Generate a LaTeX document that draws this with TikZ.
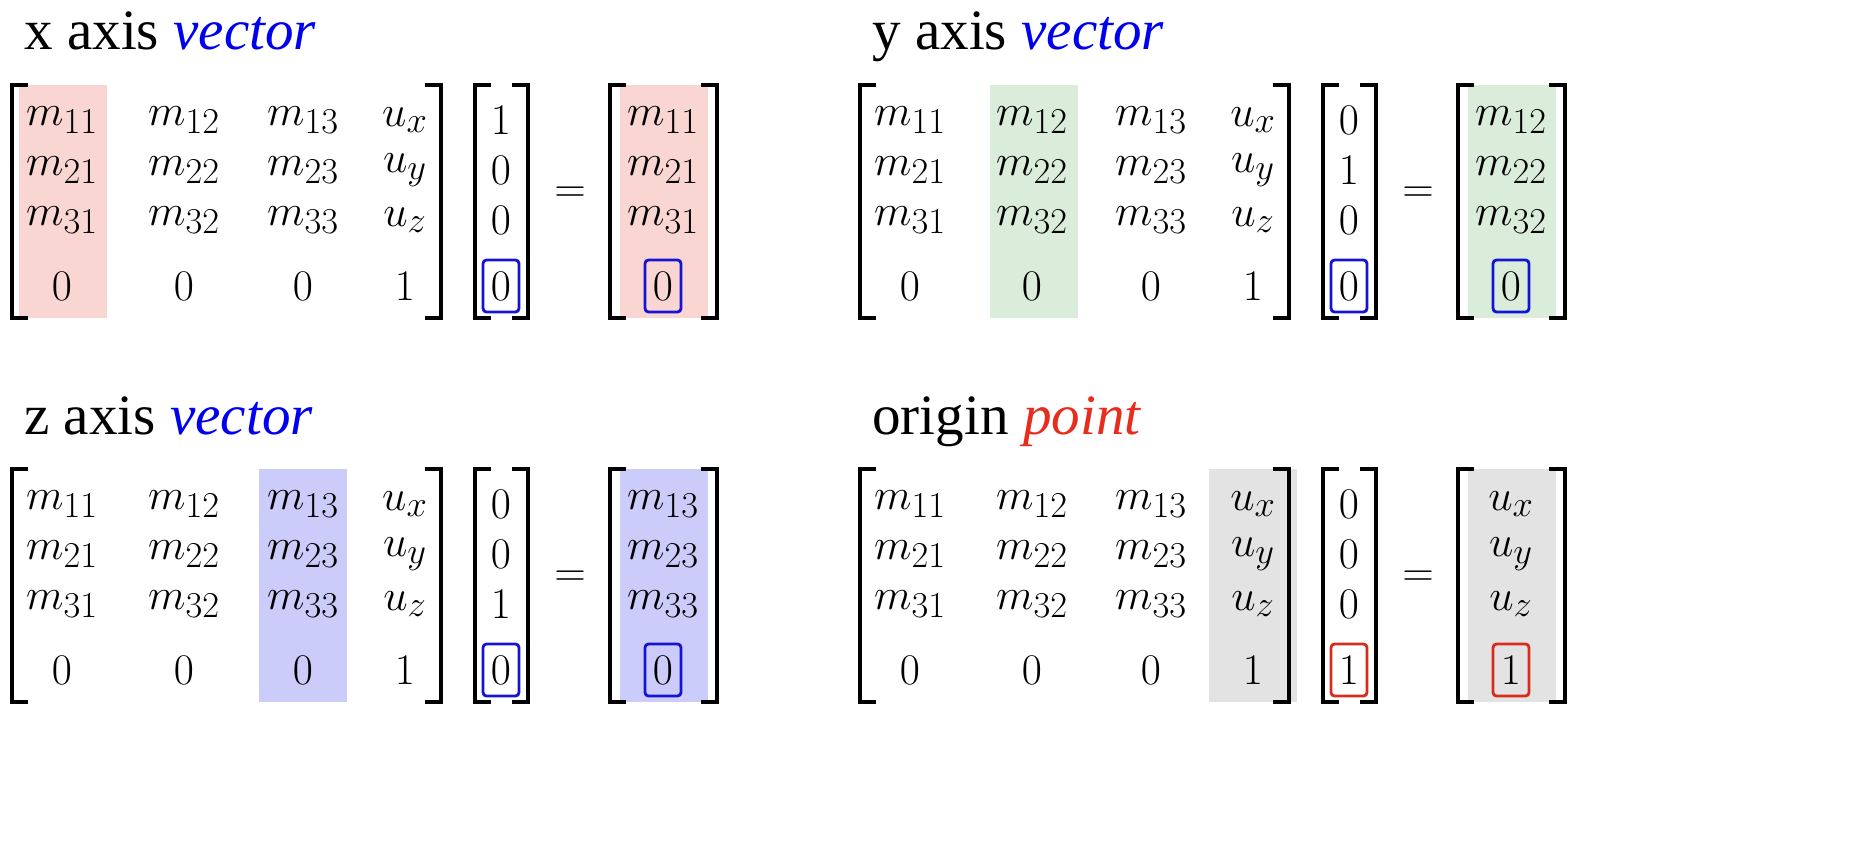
\documentclass[tikz,border=0pt]{standalone}
\usepackage{fontspec}
\newfontfamily\titlefont{Liberation Serif}
\definecolor{hpink}{RGB}{250,214,211}
\definecolor{hgreen}{RGB}{218,236,218}
\definecolor{hblue}{RGB}{204,204,250}
\definecolor{hgray}{RGB}{227,227,227}
\definecolor{bblue}{RGB}{20,20,210}
\definecolor{bred}{RGB}{215,45,30}
\definecolor{tblue}{RGB}{0,0,238}
\definecolor{tred}{RGB}{230,45,30}
\tikzset{
  ent/.style={font=\fontsize{31}{36}\selectfont, inner sep=0pt},
  brk/.style={line width=2.6pt},
  bx/.style={line width=1.6pt, rounded corners=2pt},
  ttl/.style={font=\titlefont\fontsize{32.5}{38}\selectfont, anchor=base west, inner sep=0pt}
}
\newcommand{\brL}[1]{\draw[brk] (#1+16,85) -- (#1,85) -- (#1,318) -- (#1+16,318);}
\newcommand{\brR}[1]{\draw[brk] (#1-16,85) -- (#1,85) -- (#1,318) -- (#1-16,318);}
\newcommand{\mypanel}[8]{%
\begin{scope}[shift={(#1,#2)}]
  \node[ttl] at (24,50) {#3};
  \fill[#5] (#4-44,85) rectangle (#4+44,318);
  \fill[#5] (620,85) rectangle (708,318);
  \brL{12}\brR{441}\brL{475}\brR{528}\brL{610}\brR{717}
  \foreach \r/\yy in {1/120,2/170,3/220} {
    \node[ent] at (62,\yy) {$m_{\r1}$};
    \node[ent] at (184,\yy) {$m_{\r2}$};
    \node[ent] at (303,\yy) {$m_{\r3}$};
  }
  \node[ent] at (405,120) {$u_x$};
  \node[ent] at (405,170) {$u_y$};
  \node[ent] at (405,220) {$u_z$};
  \foreach \xx/\v in {62/0,184/0,303/0,405/1} \node[ent] at (\xx,286) {$\v$};
  \foreach \v [count=\i] in {#6} {
    \pgfmathsetmacro{\yy}{\i==4 ? 286 : 70+50*\i}
    \node[ent] at (501,\yy) {$\v$};
  }
  \foreach \v [count=\i] in {#7} {
    \pgfmathsetmacro{\yy}{\i==4 ? 286 : 70+50*\i}
    \node[ent] at (663,\yy) {$\v$};
  }
  \node[ent] at (570,195) {$=$};
  \draw[bx,#8] (483,260) rectangle (519,312);
  \draw[bx,#8] (645,260) rectangle (681,312);
\end{scope}}
\begin{document}
\begin{tikzpicture}[x=0.02cm,y=-0.02cm]
\useasboundingbox (0,0) rectangle (1872,852);
\mypanel{0}{0}{x axis {\color{tblue}\itshape vector}}{63}{hpink}{1,0,0,0}{m_{11},m_{21},m_{31},0}{bblue}
\mypanel{848}{0}{y axis {\color{tblue}\itshape vector}}{186}{hgreen}{0,1,0,0}{m_{12},m_{22},m_{32},0}{bblue}
\mypanel{0}{384}{z axis {\color{tblue}\itshape vector}}{303}{hblue}{0,0,1,0}{m_{13},m_{23},m_{33},0}{bblue}
\mypanel{848}{384}{origin {\color{tred}\itshape point}}{405}{hgray}{0,0,0,1}{u_x,u_y,u_z,1}{bred}
\end{tikzpicture}
\end{document}
